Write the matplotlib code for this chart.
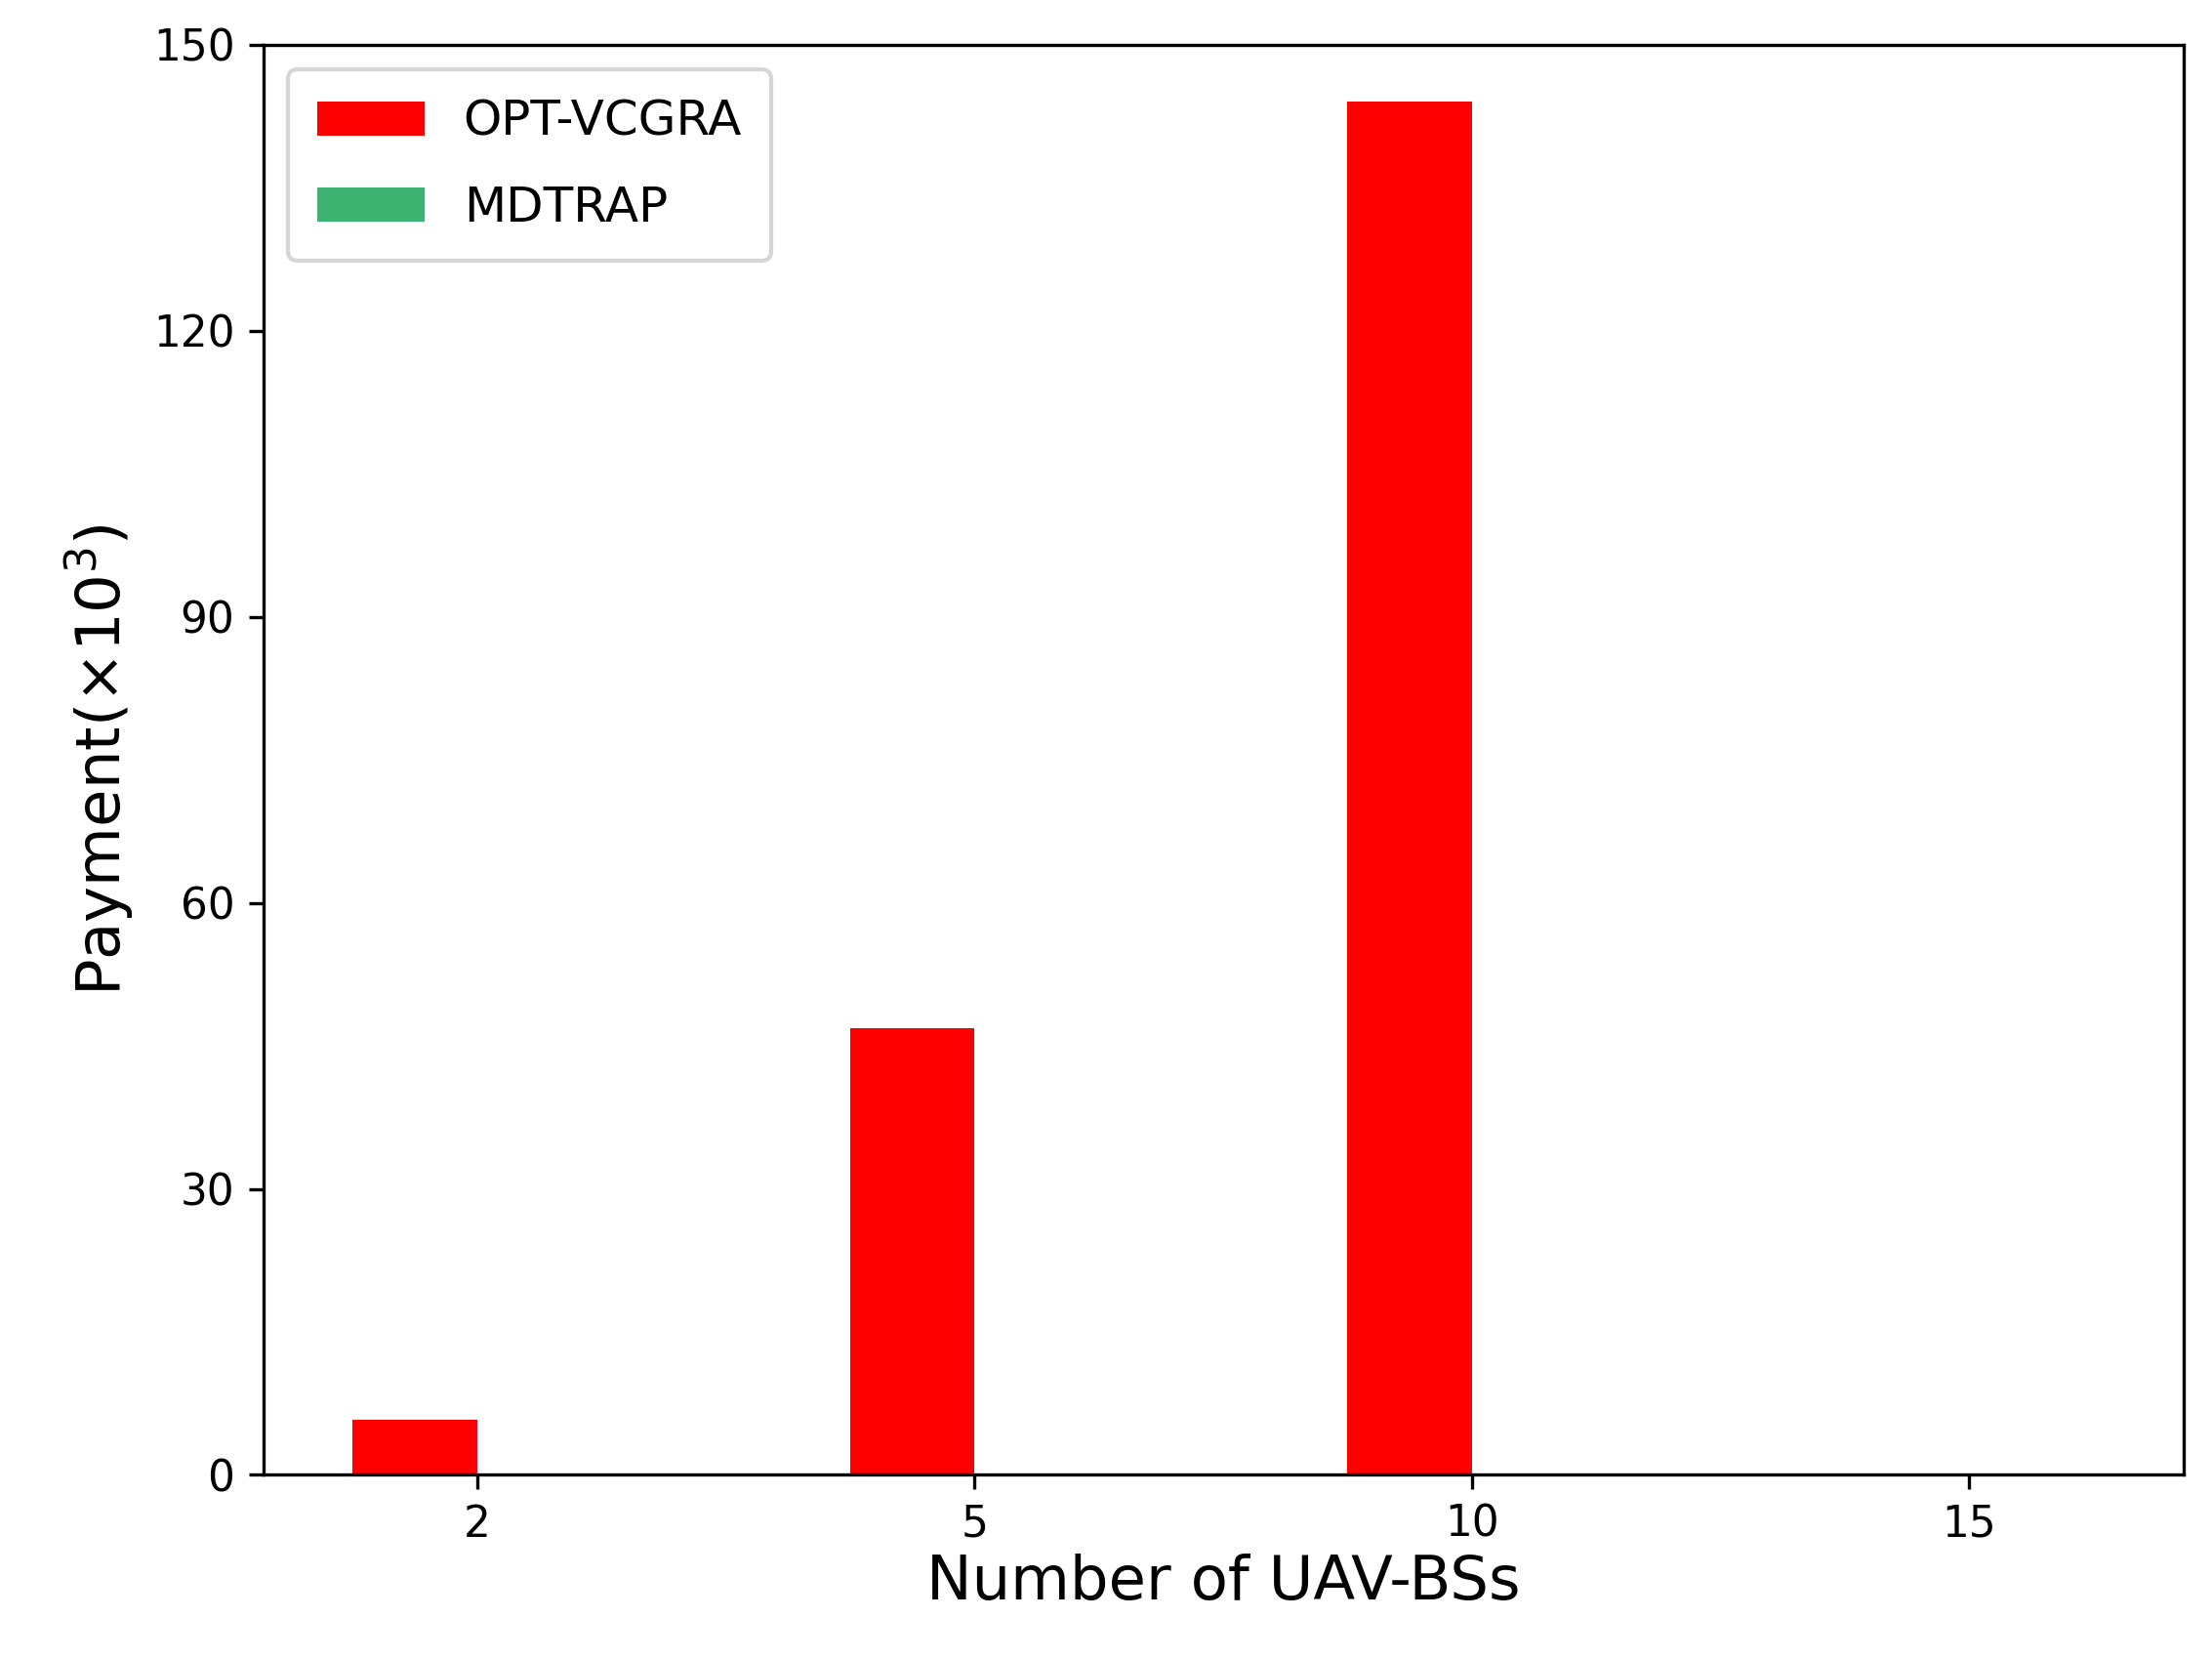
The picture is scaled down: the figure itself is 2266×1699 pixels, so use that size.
import matplotlib
matplotlib.use("Agg")
import matplotlib.pyplot as plt
import numpy as np

categories = ["2", "5", "10", "15"]
opt_vcgra = [5.8, 46.8, 144.0, 0.0]
mdtrap = [0.0, 0.0, 0.0, 0.0]

fig = plt.figure(figsize=(2266/300, 1699/300), dpi=300)
ax = fig.add_axes([0.119, 0.111, 0.868, 0.862])
x = np.arange(len(categories))
w = 0.25
ax.bar(x - w/2, opt_vcgra, w, color="#ff0000", label="OPT-VCGRA")
ax.bar(x + w/2, mdtrap, w, color="#3cb371", label="MDTRAP")
ax.set_xticks(x)
ax.set_xticklabels(categories)
ax.set_xlim(-0.43, 3.43)
ax.set_ylim(0, 150)
ax.set_yticks([0, 30, 60, 90, 120, 150])
ax.tick_params(labelsize=10.5)
ax.set_xlabel("Number of UAV-BSs", fontsize=15, labelpad=2)
ax.set_ylabel("Payment($\\times10^3$)", fontsize=15)
ax.legend(loc="upper left", fontsize=12, handlelength=2.2, borderpad=0.6, labelspacing=0.8)
fig.savefig("out.png", dpi=300)
